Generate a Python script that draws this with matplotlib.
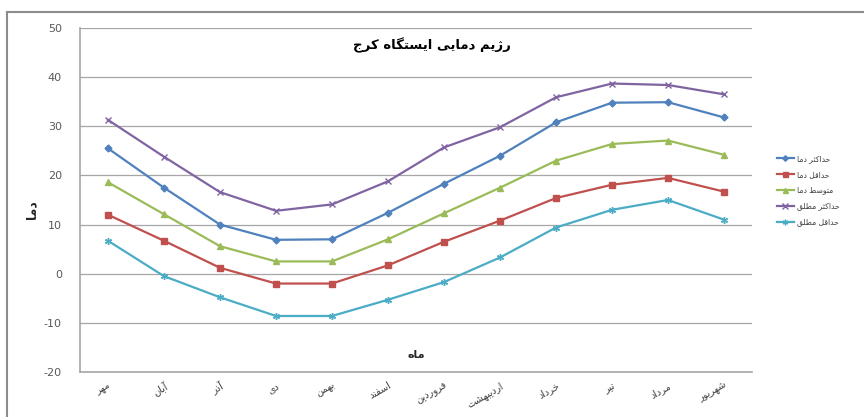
import matplotlib
matplotlib.use('Agg')
import matplotlib.pyplot as plt
from matplotlib.lines import Line2D

# months (Persian calendar, starting from Mehr)
months = ['مهر', 'آبان', 'آذر', 'دی', 'بهمن', 'اسفند',
          'فروردین', 'اردیبهشت', 'خرداد', 'تیر', 'مرداد', 'شهریور']

max_t = [25.5, 17.5, 10.0, 6.9, 7.0, 12.4, 18.3, 24.0, 30.8, 34.8, 34.9, 31.8]
min_t = [12.0, 6.7, 1.2, -2.0, -2.0, 1.7, 6.5, 10.8, 15.4, 18.1, 19.5, 16.7]
mean_t = [18.6, 12.1, 5.6, 2.5, 2.5, 7.0, 12.3, 17.5, 23.0, 26.4, 27.1, 24.2]
abs_max = [31.3, 23.8, 16.6, 12.8, 14.1, 18.8, 25.7, 29.8, 35.9, 38.7, 38.4, 36.5]
abs_min = [6.7, -0.5, -4.8, -8.6, -8.6, -5.3, -1.7, 3.3, 9.4, 13.0, 15.0, 11.0]

series_names = ['حداکثر دما', 'حداقل دما', 'متوسط دما', 'حداکثر مطلق', 'حداقل مطلق']
title = 'رژیم دمایی ایستگاه کرج'
xlabel = 'ماه'
ylabel = 'دما'

# matplotlib has no arabic shaping, so pick presentation forms by hand
# (isolated, final, initial, medial)
forms = {
    'ا': (0xFE8D, 0xFE8E), 'آ': (0xFE81, 0xFE82),
    'د': (0xFEA9, 0xFEAA), 'ذ': (0xFEAB, 0xFEAC),
    'ر': (0xFEAD, 0xFEAE), 'ز': (0xFEAF, 0xFEB0),
    'ژ': (0xFB8A, 0xFB8B), 'و': (0xFEED, 0xFEEE),
    'ب': (0xFE8F, 0xFE90, 0xFE91, 0xFE92), 'پ': (0xFB56, 0xFB57, 0xFB58, 0xFB59),
    'ت': (0xFE95, 0xFE96, 0xFE97, 0xFE98), 'ث': (0xFE99, 0xFE9A, 0xFE9B, 0xFE9C),
    'ج': (0xFE9D, 0xFE9E, 0xFE9F, 0xFEA0), 'چ': (0xFB7A, 0xFB7B, 0xFB7C, 0xFB7D),
    'ح': (0xFEA1, 0xFEA2, 0xFEA3, 0xFEA4), 'خ': (0xFEA5, 0xFEA6, 0xFEA7, 0xFEA8),
    'س': (0xFEB1, 0xFEB2, 0xFEB3, 0xFEB4), 'ش': (0xFEB5, 0xFEB6, 0xFEB7, 0xFEB8),
    'ط': (0xFEC1, 0xFEC2, 0xFEC3, 0xFEC4), 'ع': (0xFEC9, 0xFECA, 0xFECB, 0xFECC),
    'ف': (0xFED1, 0xFED2, 0xFED3, 0xFED4), 'ق': (0xFED5, 0xFED6, 0xFED7, 0xFED8),
    'ک': (0xFB8E, 0xFB8F, 0xFB90, 0xFB91), 'گ': (0xFB92, 0xFB93, 0xFB94, 0xFB95),
    'ل': (0xFEDD, 0xFEDE, 0xFEDF, 0xFEE0), 'م': (0xFEE1, 0xFEE2, 0xFEE3, 0xFEE4),
    'ن': (0xFEE5, 0xFEE6, 0xFEE7, 0xFEE8), 'ه': (0xFEE9, 0xFEEA, 0xFEEB, 0xFEEC),
    'ی': (0xFBFC, 0xFBFD, 0xFBFE, 0xFBFF),
}

def fa(text):
    out = []
    for i, c in enumerate(text):
        if c not in forms:
            out.append(c)
            continue
        prev = text[i - 1] if i > 0 else ''
        nxt = text[i + 1] if i + 1 < len(text) else ''
        join_prev = prev in forms and len(forms[prev]) == 4
        join_next = len(forms[c]) == 4 and nxt in forms
        f = forms[c]
        if join_prev and join_next:
            out.append(chr(f[3]))
        elif join_prev:
            out.append(chr(f[1]))
        elif join_next:
            out.append(chr(f[2]))
        else:
            out.append(chr(f[0]))
    return ''.join(out)[::-1]

plt.rcParams['font.family'] = ['DejaVu Sans']
plt.rcParams['axes.unicode_minus'] = False

fig = plt.figure(figsize=(8.64, 4.17), dpi=100)
ax = fig.add_axes([80 / 864, 1 - 372 / 417, 672 / 864, 344 / 417])

x = list(range(len(months)))
styles = [
    (max_t, '#4F81BD', 'D', 3.5),
    (min_t, '#C0504D', 's', 4.5),
    (mean_t, '#9BBB59', '^', 4.5),
    (abs_max, '#8064A2', 'x', 5),
    (abs_min, '#4BACC6', (6, 2, 0), 5),
]
handles = []
for (vals, col, mk, ms), name in zip(styles, series_names):
    h, = ax.plot(x, vals, color=col, marker=mk, markersize=ms, linewidth=1.6,
                 markeredgewidth=1.0, label=fa(name))
    handles.append(h)

ax.set_xlim(-0.5, len(months) - 0.5)
ax.set_ylim(-20, 50)
ax.set_yticks(range(-20, 51, 10))
ax.yaxis.grid(True, color='#a6a6a6', linewidth=0.9)
ax.set_axisbelow(True)
for s in ['top', 'right']:
    ax.spines[s].set_visible(False)
for s in ['left', 'bottom']:
    ax.spines[s].set_color('#a6a6a6')
    ax.spines[s].set_linewidth(1.2)
ax.tick_params(axis='y', length=0, labelsize=8, labelcolor='#595959', pad=13)
ax.tick_params(axis='x', length=0, pad=6)
ax.set_xticks(x)
ax.set_xticklabels([fa(m) for m in months], rotation=30, fontsize=7,
                   color='#404040', ha='right', rotation_mode='anchor')

ax.text(0.5, 0.05, fa(xlabel), transform=ax.transAxes, ha='center', va='center',
        fontsize=8, fontweight='bold', color='#262626')
fig.text(32 / 864, 1 - 210 / 417, fa(ylabel), rotation=90, ha='center', va='center',
         fontsize=9, fontweight='bold', color='#262626')
fig.text(0.5, 1 - 45 / 417, fa(title), ha='center', va='center', fontsize=9.5,
         fontweight='bold', color='#000000')

leg = fig.legend(handles=handles, loc='center left', bbox_to_anchor=(770 / 864, 1 - 190 / 417),
                 frameon=False, fontsize=5.5, handlelength=2.2, labelspacing=0.9,
                 handletextpad=0.4, markerscale=0.8)
for t in leg.get_texts():
    t.set_color('#404040')

# chart-area border (only top and left visible in the reference)
fig.add_artist(Line2D([7 / 864, 1], [1 - 12 / 417, 1 - 12 / 417], transform=fig.transFigure,
                      color='#8c8c8c', linewidth=1.5))
fig.add_artist(Line2D([7 / 864, 7 / 864], [0, 1 - 12 / 417], transform=fig.transFigure,
                      color='#8c8c8c', linewidth=1.5))

fig.savefig('out.png', dpi=100, facecolor='white')
